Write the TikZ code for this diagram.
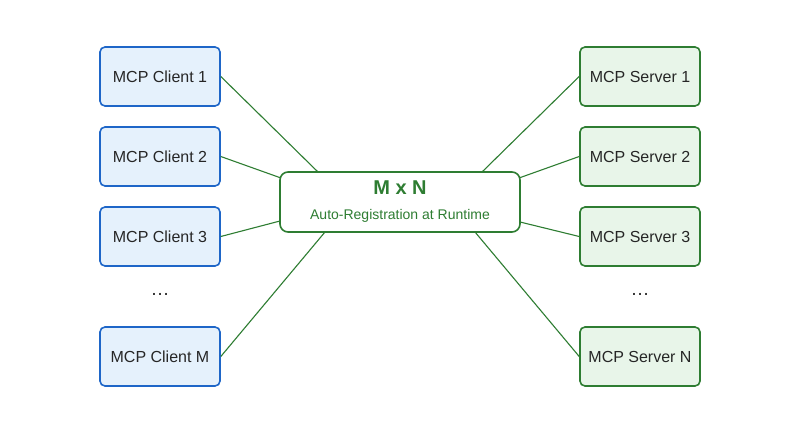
\documentclass[tikz,border=0pt]{standalone}
\usepackage{fontspec}
\setmainfont{Liberation Sans}
\begin{document}
\begin{tikzpicture}[x=1pt,y=-1pt,
  client/.style={draw=cblue,fill=cfill,line width=1.6pt,rounded corners=5pt,minimum width=120pt,minimum height=59pt,inner sep=0pt,font=\fontsize{16}{18}\selectfont,text=black!85},
  server/.style={draw=sgreen,fill=sfill,line width=1.6pt,rounded corners=5pt,minimum width=120pt,minimum height=59pt,inner sep=0pt,font=\fontsize{16}{18}\selectfont,text=black!85},
  link/.style={draw=sgreen,line width=1.1pt},
  dots/.style={font=\fontsize{19}{21}\selectfont,text=black!85}]
\definecolor{cblue}{HTML}{1E66C8}
\definecolor{cfill}{HTML}{E5F1FC}
\definecolor{sgreen}{HTML}{2E7D32}
\definecolor{sfill}{HTML}{E8F5E9}
\useasboundingbox (0,0) rectangle (800,427);
\fill[white] (0,0) rectangle (800,427);
\node[client] (c1) at (160,76.5) {MCP Client 1};
\node[client] (c2) at (160,156.5) {MCP Client 2};
\node[client] (c3) at (160,236.5) {MCP Client 3};
\node[dots] (cd) at (160,294) {\dots};
\node[client] (cm) at (160,356.5) {MCP Client M};
\node[server] (s1) at (640,76.5) {MCP Server 1};
\node[server] (s2) at (640,156.5) {MCP Server 2};
\node[server] (s3) at (640,236.5) {MCP Server 3};
\node[dots] (sd) at (640,294) {\dots};
\node[server] (sn) at (640,356.5) {MCP Server N};
\node[draw=sgreen,fill=white,line width=1.6pt,rounded corners=8pt,minimum width=240pt,minimum height=60pt,inner sep=0pt] (hub) at (400,202) {};
\node[text=sgreen,font=\bfseries\fontsize{20}{22}\selectfont] (t1) at (400,188) {M x N};
\node[text=sgreen,font=\fontsize{14}{16}\selectfont] (t2) at (400,216) {Auto-Registration at Runtime};
\coordinate (h1) at (318,172);
\coordinate (h2) at (281,178);
\coordinate (h3) at (280,221);
\coordinate (h4) at (325,232);
\coordinate (g1) at (482,172);
\coordinate (g2) at (519,178);
\coordinate (g3) at (520,222);
\coordinate (g4) at (475,232);
\draw[link] (c1.east) -- (h1);
\draw[link] (c2.east) -- (h2);
\draw[link] (c3.east) -- (h3);
\draw[link] (cm.east) -- (h4);
\draw[link] (s1.west) -- (g1);
\draw[link] (s2.west) -- (g2);
\draw[link] (s3.west) -- (g3);
\draw[link] (sn.west) -- (g4);
\end{tikzpicture}
\end{document}
